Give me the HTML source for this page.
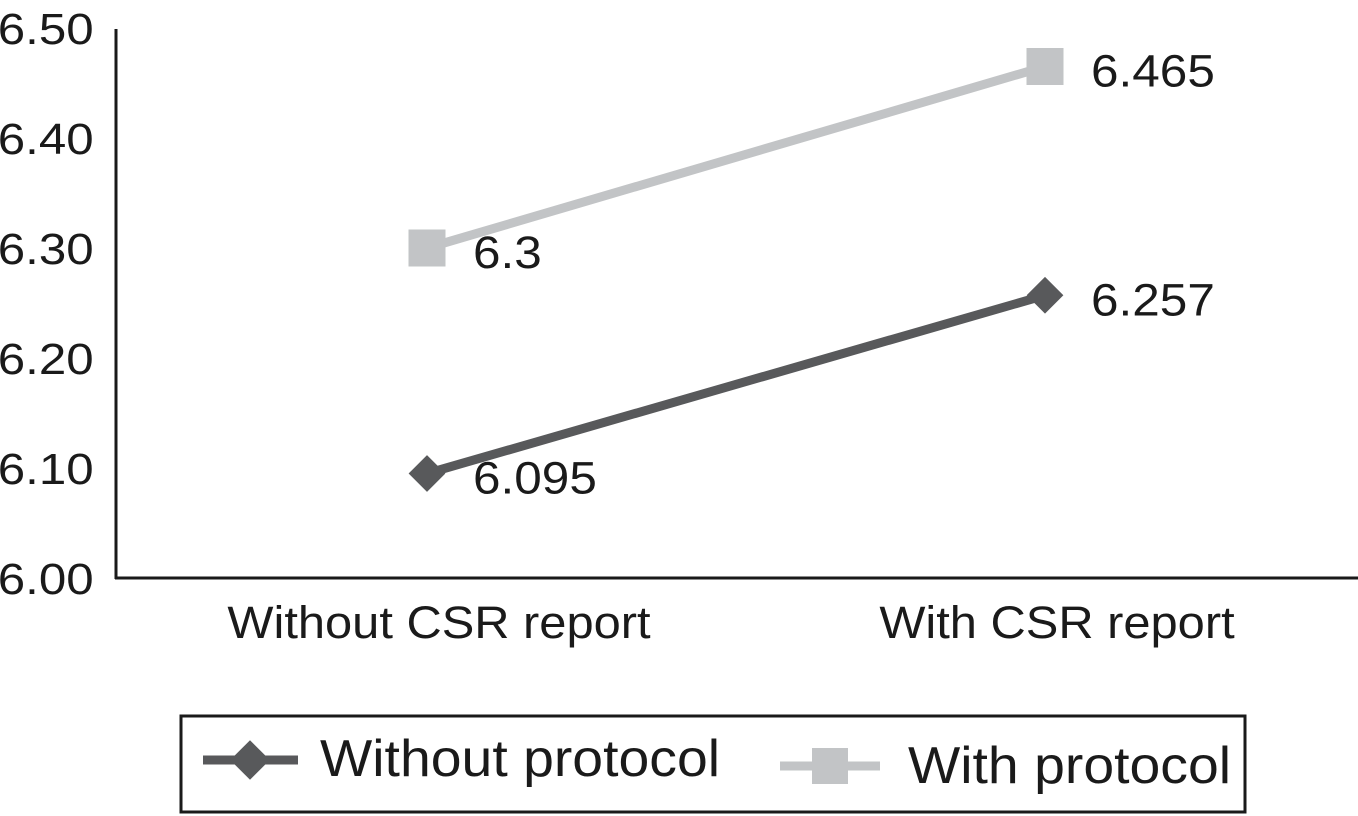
<!DOCTYPE html>
<html><head><meta charset="utf-8"><style>
body{margin:0;background:#fff;}
svg{display:block;font-family:"Liberation Sans",Arial,sans-serif;}
</style></head><body>
<svg id="chart" width="1358" height="816">
<g id="axes"></g><g id="series"></g>
<rect x="181" y="716" width="1064" height="96" fill="none" stroke="#1a1a1a" stroke-width="3"/>
<g>
<line x1="203" y1="760" x2="298" y2="760" stroke="#58595b" stroke-width="9"/>
<rect x="236" y="746" width="28" height="28" fill="#58595b" transform="rotate(45 250 760)"/>
<text x="320" y="776" font-size="52" transform="translate(320 0) scale(1.065 1) translate(-320 0)" fill="#1a1a1a">Without protocol</text></g>
<g>
<line x1="780" y1="766" x2="880" y2="766" stroke="#c2c4c6" stroke-width="9"/>
<rect x="812" y="748" width="36" height="36" fill="#c2c4c6"/>
<text x="908" y="783" font-size="52" transform="translate(908 0) scale(1.065 1) translate(-908 0)" fill="#1a1a1a">With protocol</text></g>
</svg>
<script>
const categories=["Without CSR report","With CSR report"];
const withoutProtocol=[6.095,6.257];
const withProtocol=[6.3,6.465];
const yTicks=[6.00,6.10,6.20,6.30,6.40,6.50];
const NS="http://www.w3.org/2000/svg";
const y=v=>578-(v-6.0)*1100;
const x=i=>427+i*618;
function mk(t,a,p){const e=document.createElementNS(NS,t);for(const k in a)e.setAttribute(k,a[k]);p.appendChild(e);return e;}
const ax=document.getElementById('axes'),se=document.getElementById('series');
let l=mk('line',{x1:116,y1:29,x2:116,y2:579,stroke:'#1a1a1a','stroke-width':3},ax);


l=mk('line',{x1:115,y1:578,x2:1358,y2:578,stroke:'#1a1a1a','stroke-width':3},ax);


yTicks.forEach(v=>{const t=mk('text',{x:-2,y:y(v)+16,'font-size':44,fill:'#1a1a1a',transform:'scale(1.12 1)'},ax);t.textContent=v.toFixed(2);

});
categories.forEach((c,i)=>{const cx=x(i)+12;const t=mk('text',{x:cx,y:638,'font-size':45,fill:'#1a1a1a','text-anchor':'middle',transform:`translate(${cx} 0) scale(1.085 1) translate(${-cx} 0)`},ax);t.textContent=c;

});
function series(vals,col,kind,name){
 const g=mk('g',{},se);
 
 
 mk('polyline',{points:vals.map((v,i)=>x(i)+','+y(v)).join(' '),fill:'none',stroke:col,'stroke-width':9},g);
 vals.forEach((v,i)=>{
  let m;
  if(kind==='sq') m=mk('rect',{x:x(i)-18.5,y:y(v)-18.5,width:37,height:37,fill:col},g);
  else m=mk('rect',{x:x(i)-13,y:y(v)-13,width:26,height:26,fill:col,transform:`rotate(45 ${x(i)} ${y(v)})`},g);
  
  
  const lx=x(i)+46;
  const t=mk('text',{x:lx,y:y(v)+20,'font-size':45,fill:'#1a1a1a',transform:`translate(${lx} 0) scale(1.1 1) translate(${-lx} 0)`},g);t.textContent=String(v);
  
  
 });
}
series(withProtocol,'#c2c4c6','sq','series-with-protocol');
series(withoutProtocol,'#58595b','di','series-without-protocol');
</script>
</body></html>
